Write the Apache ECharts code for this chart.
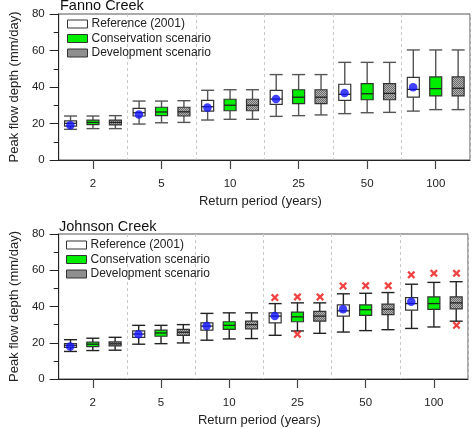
<!DOCTYPE html>
<html>
<head>
<meta charset="utf-8">
<script src="https://cdn.jsdelivr.net/npm/echarts@6/dist/echarts.min.js"></script>
<style>
html,body{margin:0;padding:0;background:#fff;}
#chart{width:475px;height:428px;}
</style>
</head>
<body>
<div id="chart"></div>
<script>
// ---------- data ----------
const categories = ['2', '5', '10', '25', '50', '100'];
const seriesNames = ['Reference (2001)', 'Conservation scenario', 'Development scenario'];

// [low whisker, Q1, median, Q3, high whisker] per return period
const fannoRef = [[16.8,18.6,20.1,21.4,24.1],[19.7,24.1,25.9,28.3,32.3],[21.9,26.8,29.2,32.7,38.2],[23.9,30.5,33.4,38.2,46.8],[25.4,32.7,36.0,41.5,53.5],[26.8,34.4,38.7,45.3,60.3]];
const fannoCons = [[17.2,19.4,20.6,21.9,24.1],[20.4,24.3,26.3,28.9,32.3],[22.3,27.0,30.0,33.3,38.5],[24.3,30.9,34.4,38.5,46.8],[25.9,33.0,36.3,41.8,53.5],[27.6,35.1,39.1,45.5,60.3]];
const fannoDev = [[17.2,19.2,20.6,21.9,24.3],[20.6,24.1,26.4,28.9,32.5],[22.3,27.0,30.0,33.3,38.5],[24.7,30.9,34.4,38.5,46.8],[26.1,33.0,36.5,41.8,53.5],[27.6,35.1,39.3,45.5,60.3]];
const fannoMean = [19.0, 25.0, 28.7, 33.4, 36.7, 39.8];

const johnsonRef = [[15.2,17.5,18.6,19.5,21.7],[19.2,23.0,24.8,26.5,29.6],[21.4,27.0,29.2,31.0,36.2],[24.1,31.0,34.7,36.5,41.6],[25.9,34.7,37.6,40.9,47.0],[27.9,38.0,41.6,44.9,52.3]];
const johnsonCons = [[15.7,17.9,19.2,20.3,22.5],[19.5,23.6,25.4,27.0,29.6],[22.1,27.4,29.6,31.6,36.5],[26.5,31.6,34.3,36.9,42.0],[26.7,35.1,38.2,40.9,47.3],[28.7,38.4,41.6,45.3,53.3]];
const johnsonDev = [[15.9,18.3,19.4,20.5,23.0],[19.9,24.1,25.8,27.4,30.0],[22.3,27.7,30.0,31.9,36.5],[25.2,31.9,34.7,37.3,42.0],[27.2,35.5,38.5,41.3,47.7],[31.9,38.7,42.0,45.3,53.7]];
const johnsonMean = [17.9, 24.7, 29.2, 34.7, 38.5, 42.6];

// outliers [return period, value]
const johnsonRefOut = [['25',44.9],['50',51.3],['100',57.5]];
const johnsonConsOut = [['25',45.3],['25',24.7],['50',51.5],['100',58.3]];
const johnsonDevOut = [['25',45.3],['50',51.5],['100',58.3],['100',29.6]];

const yTicks = {min: 0, max: 80, interval: 20};

// ---------- styles ----------
const FONT = 'Liberation Sans, Arial, sans-serif';
const TXT = '#222';
const OFFSETS = [-0.327, 0, 0.327]; // fraction of category band
const BAND_PX = 415 / 6;

function hatchPattern() {
  const c = document.createElement('canvas');
  c.width = 4; c.height = 4;
  const g = c.getContext('2d');
  g.fillStyle = '#b4b4b4'; g.fillRect(0, 0, 4, 4);
  g.fillStyle = '#6a6a6a';
  for (let y = 0; y < 4; y++) for (let x = 0; x < 4; x++) if ((x + y) % 2 === 0) g.fillRect(x, y, 1, 1);
  return {image: c, repeat: 'repeat'};
}
const fills = ['#ffffff', '#00ee00', hatchPattern()];

function boxRender(offsetFrac, fill, whiskerColor) {
  return function (params, api) {
    const cat = api.value(0);
    const pLow = api.coord([cat, api.value(1)]);
    const pQ1 = api.coord([cat, api.value(2)]);
    const pMed = api.coord([cat, api.value(3)]);
    const pQ3 = api.coord([cat, api.value(4)]);
    const pHigh = api.coord([cat, api.value(5)]);
    const band = api.size([1, 0])[0];
    const x = pLow[0] + band * offsetFrac;
    const hw = 6, cw = 6.5;
    const ws = {stroke: whiskerColor, lineWidth: 1.4};
    return {
      type: 'group',
      children: [
        {type: 'line', shape: {x1: x, y1: pHigh[1], x2: x, y2: pQ3[1]}, style: ws},
        {type: 'line', shape: {x1: x, y1: pLow[1], x2: x, y2: pQ1[1]}, style: ws},
        {type: 'line', shape: {x1: x - cw, y1: pHigh[1], x2: x + cw, y2: pHigh[1]}, style: ws},
        {type: 'line', shape: {x1: x - cw, y1: pLow[1], x2: x + cw, y2: pLow[1]}, style: ws},
        {type: 'rect', shape: {x: x - hw, y: pQ3[1], width: 2 * hw, height: pQ1[1] - pQ3[1]},
          style: {fill: fill, stroke: '#333', lineWidth: 1.2}},
        {type: 'line', shape: {x1: x - hw, y1: pMed[1], x2: x + hw, y2: pMed[1]}, style: {stroke: '#222', lineWidth: 1.3}}
      ]
    };
  };
}

function toBoxData(arr) {
  return arr.map((v, i) => [i].concat(v));
}

const CROSS = 'path://M2,0L5,3L8,0L10,2L7,5L10,8L8,10L5,7L2,10L0,8L3,5L0,2Z';

function makeGridAxes(idx, gridLeft, gridTop) {
  return {
    grid: {left: gridLeft, top: gridTop, width: 415, height: 146, show: true, borderColor: '#555', borderWidth: 1, backgroundColor: 'transparent'},
    xAxis: {
      gridIndex: idx, type: 'category', data: categories, boundaryGap: true,
      name: 'Return period (years)', nameLocation: 'middle', nameGap: 35,
      nameTextStyle: {fontSize: 13, color: TXT, fontFamily: FONT, padding: [0, 8, 0, 0]},
      axisLine: {show: true, lineStyle: {color: '#222', width: 1}},
      axisTick: {show: true, alignWithLabel: true, length: 9, lineStyle: {color: '#444', width: 1.2}},
      axisLabel: {fontSize: 11.5, color: TXT, fontFamily: FONT, margin: 18},
      splitLine: {show: true, lineStyle: {color: '#c8c8c8', type: [3, 3], width: 1}}
    },
    yAxis: {
      gridIndex: idx, type: 'value', min: yTicks.min, max: yTicks.max, interval: yTicks.interval,
      name: 'Peak flow depth (mm/day)', nameLocation: 'middle', nameGap: 36,
      nameTextStyle: {fontSize: 13, color: TXT, fontFamily: FONT},
      axisLine: {show: true, lineStyle: {color: '#222', width: 1}},
      axisTick: {show: true, length: 9, lineStyle: {color: '#222'}},
      minorTick: {show: true, splitNumber: 2, length: 5, lineStyle: {color: '#222'}},
      axisLabel: {fontSize: 11.5, color: TXT, fontFamily: FONT, margin: 14},
      splitLine: {show: false}
    }
  };
}

const g0 = makeGridAxes(0, 55, 14);
const g1 = makeGridAxes(1, 53, 234);

const panels = [
  {boxes: [fannoRef, fannoCons, fannoDev], mean: fannoMean, outs: [null, null, null], whisker: '#555'},
  {boxes: [johnsonRef, johnsonCons, johnsonDev], mean: johnsonMean, outs: [johnsonRefOut, johnsonConsOut, johnsonDevOut], whisker: '#222'}
];

const series = [];
panels.forEach((p, gi) => {
  p.boxes.forEach((arr, si) => {
    series.push({
      name: seriesNames[si], type: 'custom', xAxisIndex: gi, yAxisIndex: gi,
      renderItem: boxRender(OFFSETS[si], fills[si], p.whisker),
      itemStyle: {color: fills[si], borderColor: '#333', borderWidth: 1},
      encode: {x: 0, y: [1, 2, 3, 4, 5]},
      data: toBoxData(arr), z: 2
    });
  });
  p.outs.forEach((o, si) => {
    if (!o) return;
    series.push({
      name: 'Outliers', type: 'scatter', xAxisIndex: gi, yAxisIndex: gi,
      symbol: CROSS, symbolSize: 8, symbolOffset: [OFFSETS[si] * BAND_PX, 0],
      itemStyle: {color: '#ee1111'}, data: o, z: 4
    });
  });
  series.push({
    name: 'Mean', type: 'scatter', xAxisIndex: gi, yAxisIndex: gi,
    symbol: 'circle', symbolSize: 8.5, symbolOffset: [OFFSETS[0] * BAND_PX, 0],
    itemStyle: {color: '#1010ff'}, data: p.mean, z: 5
  });
});

const legendBase = {
  orient: 'vertical', data: seriesNames, icon: 'rect', itemWidth: 20, itemHeight: 8,
  itemGap: 2.5, padding: 0, selectedMode: false,
  itemStyle: {borderColor: '#333', borderWidth: 1},
  textStyle: {fontSize: 12, color: TXT, fontFamily: FONT, padding: [0, 0, 0, -1]}
};

const option = {
  animation: false,
  backgroundColor: '#fff',
  title: [
    {text: 'Fanno Creek', left: 60, top: -2, padding: 0, textStyle: {fontSize: 14.5, fontWeight: 'normal', color: '#111', fontFamily: FONT}},
    {text: 'Johnson Creek', left: 59, top: 219, padding: 0, textStyle: {fontSize: 14.5, fontWeight: 'normal', color: '#111', fontFamily: FONT}}
  ],
  legend: [
    Object.assign({}, legendBase, {left: 67, top: 18}),
    Object.assign({}, legendBase, {left: 66, top: 239})
  ],
  grid: [g0.grid, g1.grid],
  xAxis: [g0.xAxis, g1.xAxis],
  yAxis: [g0.yAxis, g1.yAxis],
  series: series
};

const chart = echarts.init(document.getElementById('chart'), null, {renderer: 'canvas'});
chart.setOption(option);
</script>
</body>
</html>
